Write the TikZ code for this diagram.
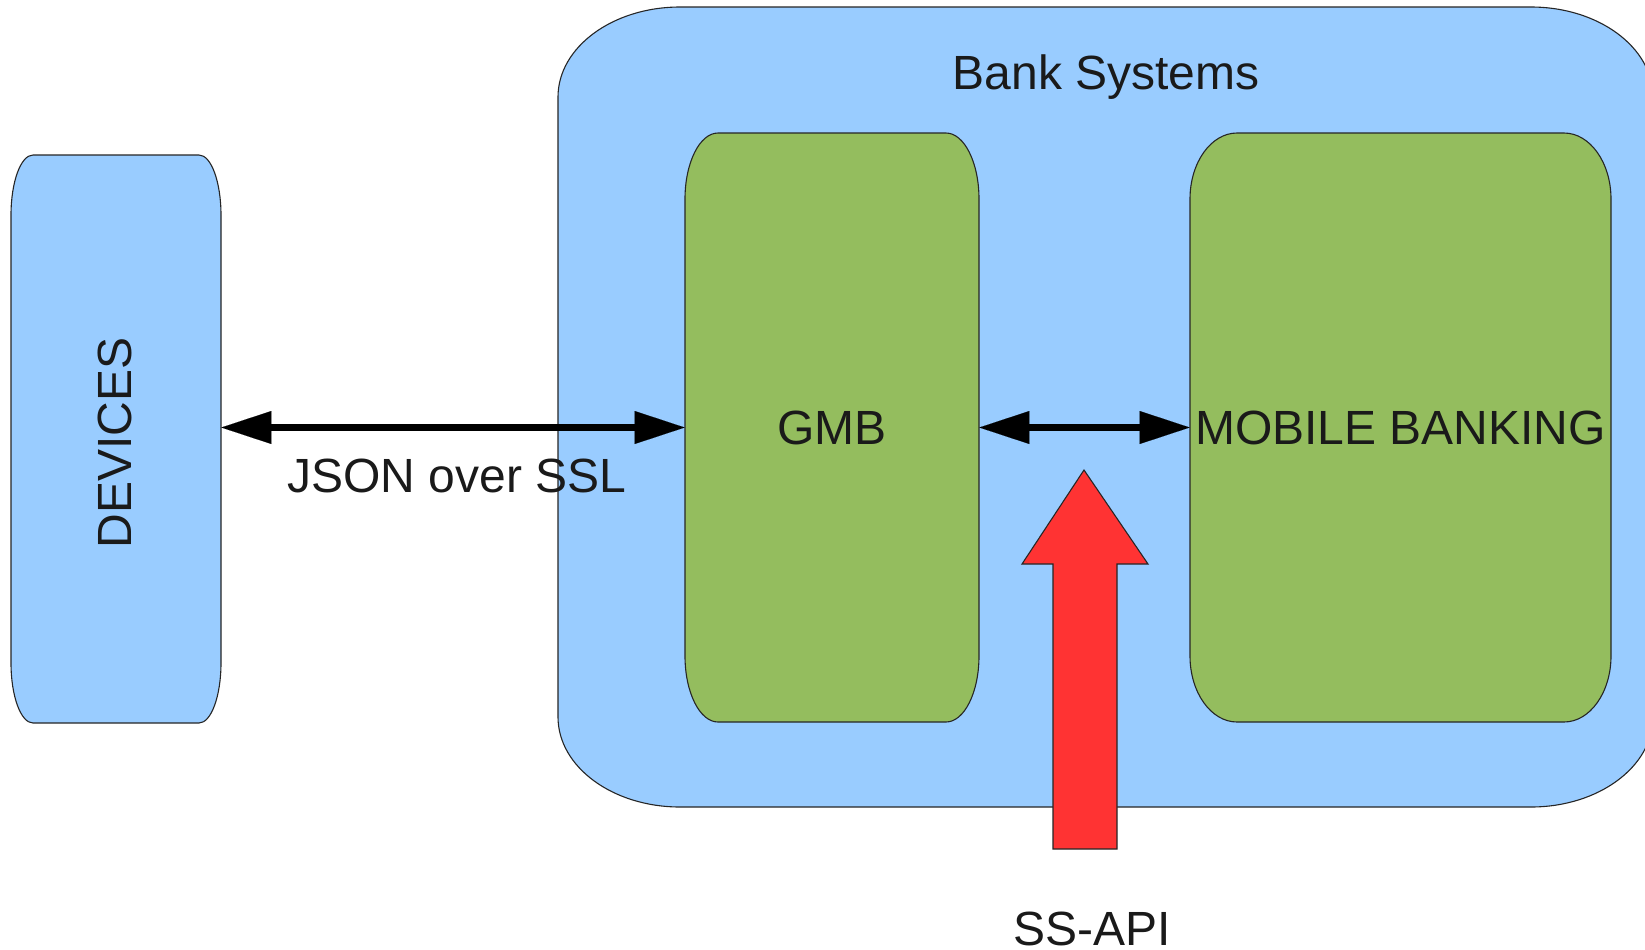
\documentclass[tikz,border=0pt]{standalone}
\usepackage{fontspec}
\setmainfont{Liberation Sans}
\usetikzlibrary{arrows.meta}
\definecolor{bankblue}{HTML}{99CCFF}
\definecolor{gmbgreen}{HTML}{94BD5E}
\definecolor{apired}{HTML}{FF3333}
\definecolor{inktext}{HTML}{1A1A1A}
\tikzset{
  shapeline/.style={draw=black!85, line width=0.55pt},
  boxnode/.style={rectangle, draw=none, inner sep=0pt, font=\fontsize{24}{28}\selectfont, text=inktext},
  lbl/.style={inner sep=0pt, font=\fontsize{24}{28}\selectfont, text=inktext},
  dblarrow/.style={line width=3.85pt, draw=black, <->,
    >={Triangle[length=25pt,width=16.5pt,line width=0.01pt]}},
}
% elliptical-corner rounded rectangle: fill, x1,y1,x2,y2,rx,ry (pixel coords)
\newcommand\ellrect[7]{%
  \filldraw[shapeline,fill=#1] ({#2+#6},#3) -- ({#4-#6},#3)
   .. controls ({#4-0.4477*#6},#3) and (#4,{#3+0.4477*#7}) .. (#4,{#3+#7})
   -- (#4,{#5-#7})
   .. controls (#4,{#5-0.4477*#7}) and ({#4-0.4477*#6},#5) .. ({#4-#6},#5)
   -- ({#2+#6},#5)
   .. controls ({#2+0.4477*#6},#5) and (#2,{#5-0.4477*#7}) .. (#2,{#5-#7})
   -- (#2,{#3+#7})
   .. controls (#2,{#3+0.4477*#7}) and ({#2+0.4477*#6},#3) .. ({#2+#6},#3) -- cycle;}
\begin{document}
\begin{tikzpicture}[x=0.5pt,y=-0.5pt]
\useasboundingbox (0,0) rectangle (1645,949);
\clip (0,0) rectangle (1645,949);
\fill[white] (0,0) rectangle (1645,949);
% shapes
\ellrect{bankblue}{558}{7}{1653}{807}{122}{90}
\ellrect{bankblue}{11}{155}{221}{723}{22}{60}
\ellrect{gmbgreen}{685}{133}{979}{722}{33}{66}
\ellrect{gmbgreen}{1190}{133}{1611}{722}{47}{66}
% named nodes over the shapes
\node[boxnode, minimum width=547.5pt, minimum height=400pt] (bank) at (1105.5,407) {};
\node[boxnode, minimum width=105pt, minimum height=284pt] (dev) at (116,439) {};
\node[boxnode, minimum width=147pt, minimum height=294.5pt] (gmb) at (832,427.5) {GMB};
\node[boxnode, minimum width=210.5pt, minimum height=294.5pt] (mob) at (1400.5,427.5) {MOBILE BANKING};
\node[lbl, rotate=90] (devtxt) at (115,443) {DEVICES};
\node[lbl, anchor=base] (banktxt) at (1106,89) {Bank Systems};
% connectors
\draw[dblarrow] (dev.east |- gmb.west) -- (gmb.west);
\draw[dblarrow] (gmb.east) -- (mob.west);
\node[lbl, anchor=base] (json) at (457,492) {JSON over SSL};
% red block arrow
\filldraw[shapeline, fill=apired] (1084,470) -- (1148,564) -- (1117,564) -- (1117,849)
  -- (1053,849) -- (1053,564) -- (1022,564) -- cycle;
\node[lbl, anchor=base] (ssapi) at (1092.5,945) {SS-API};
\end{tikzpicture}
\end{document}
